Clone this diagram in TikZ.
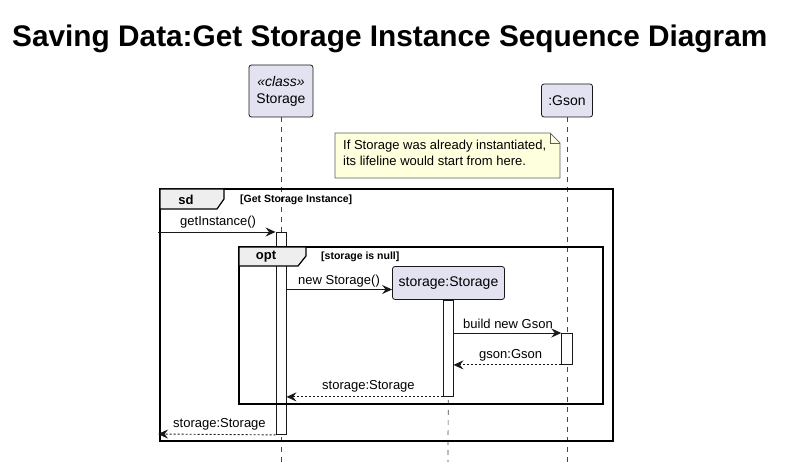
\documentclass[tikz,border=0pt]{standalone}
\usepackage{fontspec}
\setmainfont{Liberation Sans}
\usetikzlibrary{arrows.meta}
\definecolor{partfill}{HTML}{E2E2F0}
\definecolor{edge}{HTML}{181818}
\definecolor{notefill}{HTML}{FEFFDD}
\definecolor{tabfill}{HTML}{EEEEEE}
\tikzset{
  part/.style={draw=edge, fill=partfill, rounded corners=2.5pt, line width=0.8pt, inner sep=0pt, align=center, font=\fontsize{14}{17}\selectfont},
  life/.style={draw=edge!80, line width=0.7pt, dash pattern=on 5pt off 5pt},
  actbox/.style={draw=edge, fill=white, line width=0.9pt},
  msg/.style={draw=edge, line width=0.9pt, -{Stealth[length=10pt,width=9pt,inset=3.5pt]}},
  ret/.style={msg, dash pattern=on 2pt off 2pt},
  lbl/.style={font=\fontsize{13}{15}\selectfont, inner sep=0pt, anchor=west},
  frame/.style={draw=black, line width=1.6pt},
  tab/.style={draw=black, fill=tabfill, line width=1.2pt},
  tabtxt/.style={font=\bfseries\fontsize{13}{15}\selectfont, inner sep=0pt},
  guard/.style={font=\bfseries\fontsize{10.5}{12}\selectfont, inner sep=0pt, anchor=west}
}
\begin{document}
\begin{tikzpicture}[x=1pt,y=-1pt]
\useasboundingbox (0,0) rectangle (787,465);
% title
\node[font=\bfseries\fontsize{29.8}{34}\selectfont, inner sep=0pt, anchor=base west] (title) at (12,46.7) {Saving Data:Get Storage Instance Sequence Diagram};
% participants
\node[part, minimum width=64pt, minimum height=52pt] (st) at (281,91) {\textit{«class»}\\Storage};
\node[part, minimum width=51pt, minimum height=33pt] (gs) at (567,100.5) {:Gson};
% lifeline ends
\coordinate (stend) at (281,462);
\coordinate (gsend) at (567,462);
\coordinate (stoend) at (448,462);
\draw[life] (st.south) -- (stend);
\draw[life] (gs.south) -- (gsend);
% note
\path[draw=edge!70, fill=notefill, line width=0.7pt] (335,133) -- (550,133) -- (560,143) -- (560,178) -- (335,178) -- cycle;
\draw[draw=edge!70, line width=0.7pt] (550,133) -- (550,143) -- (560,143);
\node[font=\fontsize{13}{16}\selectfont, align=left, anchor=north west, inner sep=0pt] (note) at (343,140) {If Storage was already instantiated,\\its lifeline would start from here.};
% storage object
\node[part, minimum width=112pt, minimum height=33pt] (sto) at (448.5,283) {storage:Storage};
\draw[life] (sto.south) -- (stoend);
% activations
\node[actbox, minimum width=10pt, minimum height=202pt, inner sep=0pt, anchor=north] (a1) at (281,232) {};
\node[actbox, minimum width=10pt, minimum height=96pt, inner sep=0pt, anchor=north] (a2) at (448,300) {};
\node[actbox, minimum width=10.5pt, minimum height=31pt, inner sep=0pt, anchor=north] (a3) at (567,333) {};
% sd frame
\draw[frame] (160,189) rectangle (613,441);
\draw[tab] (160,189) -- (224,189) -- (224,199) -- (217,209) -- (160,209) -- cycle;
\node[tabtxt] (sdl) at (186,199.5) {sd};
\node[guard] (sdg) at (240,200) {[Get Storage Instance]};
% opt frame
\draw[frame] (239,247) rectangle (603,404);
\draw[tab] (239,247) -- (306,247) -- (306,256) -- (298,266) -- (239,266) -- cycle;
\node[tabtxt] (optl) at (266,257) {opt};
\node[guard] (optg) at (321,257) {[storage is null]};
% messages
\coordinate (in) at (158,232);
\coordinate (out) at (158,434);
\draw[msg] (in) -- (a1.north west);
\node[lbl] at (180,222) {getInstance()};
\draw[msg] (a1.east |- 0,289.5) -- (sto.west |- 0,289.5);
\node[lbl] at (298,281.5) {new Storage()};
\draw[msg] (a2.east |- a3.north) -- (a3.north west);
\node[lbl] at (463,323.5) {build new Gson};
\draw[ret] (a3.south west) -- (a2.east |- a3.south);
\node[lbl] at (479,355.5) {gson:Gson};
\draw[ret] (a2.south west) -- (a1.east |- a2.south);
\node[lbl] at (322,386) {storage:Storage};
\draw[ret] (a1.south west) -- (out);
\node[lbl] at (173,424.5) {storage:Storage};
\end{tikzpicture}
\end{document}
